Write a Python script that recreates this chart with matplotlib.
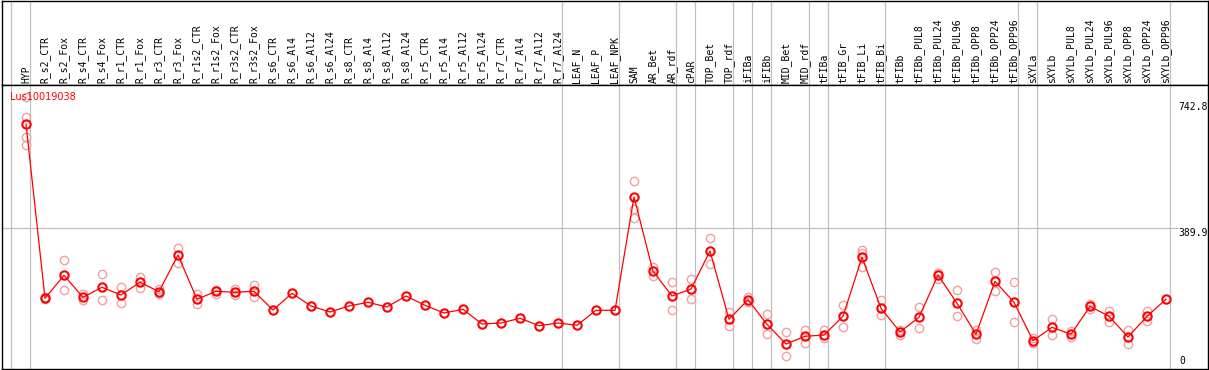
import matplotlib
matplotlib.use("Agg")
import matplotlib.pyplot as plt

gene = "Lus10019038"

samples = ["HYP", "R_s2_CTR", "R_s2_Fox", "R_s4_CTR", "R_s4_Fox", "R_r1_CTR", "R_r1_Fox",
           "R_r3_CTR", "R_r3_Fox", "R_r1s2_CTR", "R_r1s2_Fox", "R_r3s2_CTR", "R_r3s2_Fox",
           "R_s6_CTR", "R_s6_Al4", "R_s6_Al12", "R_s6_Al24", "R_s8_CTR", "R_s8_Al4",
           "R_s8_Al12", "R_s8_Al24", "R_r5_CTR", "R_r5_Al4", "R_r5_Al12", "R_r5_Al24",
           "R_r7_CTR", "R_r7_Al4", "R_r7_Al12", "R_r7_Al24", "LEAF_N", "LEAF_P", "LEAF_NPK",
           "SAM", "AR_Bet", "AR_rdf", "cPAR", "TOP_Bet", "TOP_rdf", "iFIBa", "iFIBb",
           "MID_Bet", "MID_rdf", "tFIBa", "tFIB_Gr", "tFIB_Li", "tFIB_Bi", "tFIBb",
           "tFIBb_PUL8", "tFIBb_PUL24", "tFIBb_PUL96", "tFIBb_OPP8", "tFIBb_OPP24",
           "tFIBb_OPP96", "sXYLa", "sXYLb", "sXYLb_PUL8", "sXYLb_PUL24", "sXYLb_PUL96",
           "sXYLb_OPP8", "sXYLb_OPP24", "sXYLb_OPP96"]

means = [670.6, 200.1, 262.2, 202.8, 229.8, 209.0, 243.3, 217.9, 317.0, 197.4, 219.0,
         216.3, 219.0, 168.5, 213.6, 179.3, 163.1, 179.3, 189.3, 176.6, 206.3, 181.2,
         160.4, 170.4, 130.7, 133.4, 146.1, 126.1, 133.4, 127.2, 167.7, 167.7, 473.6,
         273.0, 206.3, 225.2, 327.8, 143.4, 196.3, 129.9, 76.7, 97.5, 101.0, 151.5,
         310.8, 173.1, 109.1, 148.8, 263.0, 186.6, 102.9, 246.0, 189.3, 85.6, 121.8,
         102.9, 178.5, 151.5, 95.6, 151.5, 197.4]

replicates = [[742.7, 689.5, 634.7, 613.1], [203, 197], [302.7, 221.7], [212.5, 195.5],
              [265.7, 194.7], [229.8, 186.6], [257.6, 228.7], [225.2, 210.9],
              [335.1, 296.2], [212.5, 184.7], [223.3, 211.7], [224.4, 209.0],
              [235.2, 202.8], [], [], [], [], [], [], [], [], [], [], [], [], [], [],
              [], [], [], [], [], [516.0, 441.2, 416.1], [285.4, 259.5], [243.3, 167.7],
              [252.2, 197.4], [362.1, 291.9], [163.1, 124.5], [204.4, 190.9],
              [157.7, 103.7], [108.3, 43.5], [114.5, 78.6], [114.5, 92.1], [182.0, 123.4],
              [330.5, 321.6, 285.4], [194.7, 155.8], [114.5, 101.0], [177.4, 119.1],
              [269.2, 252.2], [221.7, 153.1], [114.5, 91.0], [270.3, 219.0],
              [243.3, 135.3], [92.9, 78.6], [144.2, 100.2], [111.8, 96.4], [184.7, 171.2],
              [165.8, 136.9], [114.5, 76.7], [165.8, 139.6], []]

# a gray separator is drawn after each of these sample indices
group_ends = [-1, 0, 28, 31, 34, 35, 37, 38, 39, 41, 42, 45, 52, 53, 60]

y_max_label = 742.8
y_mid_label = 389.9

W, H = 1209, 370
fig = plt.figure(figsize=(W / 100, H / 100), dpi=100)


def px_box(x0, y0, x1, y1):
    return [x0 / W, 1 - y1 / H, (x1 - x0) / W, (y1 - y0) / H]


head = fig.add_axes(px_box(2, 0.5, 1207.5, 85.3))
ax = fig.add_axes(px_box(2, 85.3, 1207.5, 369), sharex=head)

for a in (head, ax):
    a.set_xticks([])
    a.set_yticks([])
    for s in a.spines.values():
        s.set_color("black")
        s.set_linewidth(1)
    for g in group_ends:
        a.axvline(g + 0.23, color="#c0c0c0", lw=0.9, zorder=0)

head.set_xlim(-24 / 19, 1181.5 / 19)
head.set_ylim(0, 1)
ax.set_ylim(9.2, 775.1)

xs = list(range(len(samples)))
for i, name in enumerate(samples):
    head.text(i, 0.03, name, rotation=90, ha="center", va="bottom",
              fontsize=7, family="DejaVu Sans Mono")

# horizontal reference line stops where its label starts
label_x = (1178 - 26) / 19
ax.hlines(y_mid_label, -24 / 19, label_x, color="#c0c0c0", lw=0.9, zorder=0)

for i, vals in enumerate(replicates):
    if vals:
        ax.plot([i] * len(vals), vals, "o", ms=6, mfc="none", mec="#f0a0a0",
                mew=1.0, zorder=2)

ax.plot(xs, means, "-", color="red", lw=0.9, zorder=3)
ax.plot(xs, means, "o", ms=6, mfc="none", mec="red", mew=1.5, zorder=4)

fig.text(10 / W, 1 - 92 / H, gene, color="red", fontsize=7, ha="left", va="top")
fig.text(1178 / W, 1 - 102 / H, f"{y_max_label}", fontsize=7, family="DejaVu Sans Mono",
         ha="left", va="top")
ax.text(label_x, y_mid_label, f"{y_mid_label}", fontsize=7, family="DejaVu Sans Mono",
        ha="left", va="top")
fig.text(1179 / W, 1 - 366 / H, "0", fontsize=7, family="DejaVu Sans Mono",
         ha="left", va="bottom")

fig.savefig("out.png", dpi=100)
